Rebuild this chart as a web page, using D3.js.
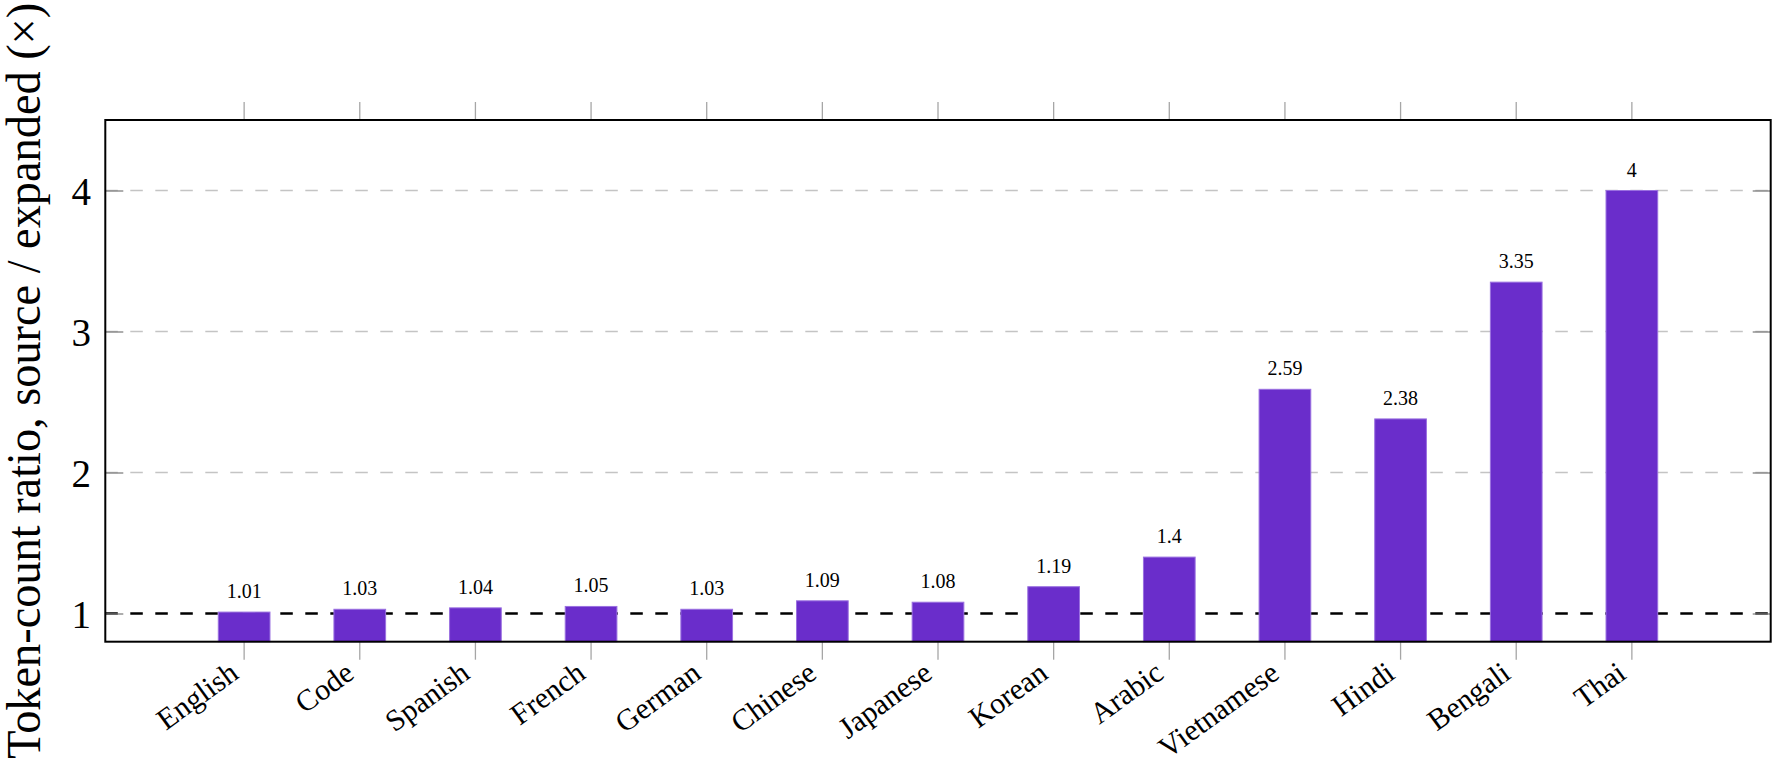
<!DOCTYPE html>
<html>
  <head>
    <meta charset="utf-8">
    <title>Token-count ratio</title>
    <script src="https://d3js.org/d3.v7.min.js"></script>
    <style>
      body { margin: 0; background: #fff; }
      svg { display: block; font-family: "Liberation Serif", "DejaVu Serif", serif; }
    </style>
  </head>
  <body>
    <svg id="chart" width="1772" height="764"></svg>
    <script>
      // data
      const languages = ["English", "Code", "Spanish", "French", "German", "Chinese", "Japanese", "Korean", "Arabic", "Vietnamese", "Hindi", "Bengali", "Thai"];
      const ratios = [1.01, 1.03, 1.04, 1.05, 1.03, 1.09, 1.08, 1.19, 1.4, 2.59, 2.38, 3.35, 4];
      const yTicks = [1, 2, 3, 4];
      const yTitle = "Token-count ratio, source / expanded (\u00d7)";

      // layout (window.top is reserved, so plot edges get their own names)
      const plotLeft = 105.3, plotRight = 1770.7, plotTop = 120, plotBottom = 641.7;
      const svg = d3.select("#chart");

      const x = d3.scaleBand()
        .domain(languages)
        .range([plotLeft, plotRight])
        .paddingInner(0.553)
        .paddingOuter(0.977);
      const y = d3.scaleLinear()
        .domain([0.8, 4.5])
        .range([plotBottom, plotTop]);

      // grid lines (2,3,4), dashed reference line at 1
      svg.append("g")
        .selectAll("line")
        .data(yTicks.filter(d => d !== 1))
        .join("line")
          .attr("x1", plotLeft).attr("x2", plotRight)
          .attr("y1", d => y(d)).attr("y2", d => y(d))
          .attr("stroke", "#c4c4c4")
          .attr("stroke-width", 1.5)
          .attr("stroke-dasharray", "12.5,12.5");
      svg.append("line")
        .attr("x1", plotLeft).attr("x2", plotRight)
        .attr("y1", y(1)).attr("y2", y(1))
        .attr("stroke", "#000")
        .attr("stroke-width", 2.4)
        .attr("stroke-dasharray", "12.5,12.5");

      // y ticks, inside on both sides
      const yLeft = svg.append("g")
        .attr("transform", `translate(${plotLeft},0)`)
        .call(d3.axisRight(y).tickValues(yTicks).tickSize(18).tickFormat(""));
      const yRight = svg.append("g")
        .attr("transform", `translate(${plotRight},0)`)
        .call(d3.axisLeft(y).tickValues(yTicks).tickSize(18).tickFormat(""));
      [yLeft, yRight].forEach(g => {
        g.select(".domain").remove();
        g.selectAll(".tick line").attr("stroke", "#808080").attr("stroke-width", 1.3);
      });
      svg.append("g")
        .selectAll("text")
        .data(yTicks)
        .join("text")
          .attr("x", 91)
          .attr("y", d => y(d))
          .attr("dy", "0.37em")
          .attr("text-anchor", "end")
          .attr("font-size", 39)
          .attr("fill", "#000")
          .text(d => d);

      // x ticks, outside at top and bottom
      const xBottom = svg.append("g")
        .attr("transform", `translate(0,${plotBottom})`)
        .call(d3.axisBottom(x).tickSize(18).tickFormat(""));
      const xTop = svg.append("g")
        .attr("transform", `translate(0,${plotTop})`)
        .call(d3.axisTop(x).tickSize(18).tickFormat(""));
      [xBottom, xTop].forEach(g => {
        g.select(".domain").remove();
        g.selectAll(".tick line").attr("stroke", "#a6a6a6").attr("stroke-width", 1.3);
      });

      // bars
      svg.append("g")
        .selectAll("rect")
        .data(ratios)
        .join("rect")
          .attr("x", (d, i) => x(languages[i]))
          .attr("width", x.bandwidth())
          .attr("y", d => y(d))
          .attr("height", d => y(0.8) - y(d))
          .attr("fill", "#6a2dcb")
          .attr("stroke", "#9a70e0")
          .attr("stroke-width", 1);

      // value labels
      svg.append("g")
        .selectAll("text")
        .data(ratios)
        .join("text")
          .attr("x", (d, i) => x(languages[i]) + x.bandwidth() / 2)
          .attr("y", d => y(d) - 14)
          .attr("text-anchor", "middle")
          .attr("font-size", 20)
          .attr("fill", "#000")
          .text(d => d);

      // category labels, rotated
      svg.append("g")
        .selectAll("text")
        .data(languages)
        .join("text")
          .attr("transform", d => `translate(${x(d) + x.bandwidth() / 2 - 4},677) rotate(-36)`)
          .attr("text-anchor", "end")
          .attr("font-size", 30)
          .attr("fill", "#000")
          .text(d => d);

      // frame
      svg.append("rect")
        .attr("x", plotLeft).attr("y", plotTop)
        .attr("width", plotRight - plotLeft).attr("height", plotBottom - plotTop)
        .attr("fill", "none")
        .attr("stroke", "#000")
        .attr("stroke-width", 2);

      // y title
      svg.append("text")
        .attr("transform", `translate(40,${(plotTop + plotBottom) / 2}) rotate(-90)`)
        .attr("text-anchor", "middle")
        .attr("font-size", 48)
        .attr("textLength", 756)
        .attr("lengthAdjust", "spacingAndGlyphs")
        .attr("fill", "#000")
        .text(yTitle);
    </script>
  </body>
</html>
